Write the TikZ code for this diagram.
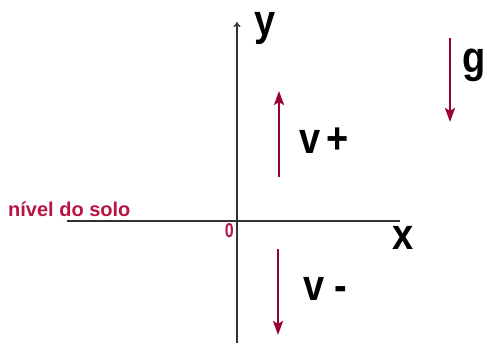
\documentclass[tikz,border=0pt]{standalone}
\usepackage{fontspec}
\setmainfont{Liberation Sans}
\usetikzlibrary{arrows.meta}
\definecolor{vred}{RGB}{153,0,51}
\definecolor{tred}{RGB}{185,20,70}
\definecolor{axisgray}{RGB}{50,50,50}
\tikzset{
  axisline/.style={draw=axisgray, line width=1.3pt},
  vecarrow/.style={draw=vred, line width=2.6pt, -{Stealth[length=14pt,width=10pt,inset=3pt]}},
  biglabel/.style={font=\bfseries\fontsize{38}{38}\selectfont, inner sep=0pt, yscale=1.15},
  redlabel/.style={font=\bfseries, text=tred, inner sep=0pt},
}
\begin{document}
\begin{tikzpicture}[x=1pt,y=-1pt]
\useasboundingbox (0,0) rectangle (487,343);
% axes
\coordinate (xl) at (67,221);
\coordinate (xr) at (400,221);
\coordinate (yb) at (237,343);
\coordinate (yt) at (237,22);
\draw[axisline] (xl) -- (xr);
\draw[axisline, -{To[length=5pt,width=7pt]}] (yb) -- (yt);
% labels
\node[biglabel, anchor=base] (ylab) at (265,35) {y};
\node[biglabel, anchor=base] (xlab) at (403,249) {x};
\node[biglabel, anchor=base] (glab) at (474,72) {g};
\node[biglabel, anchor=base west] (vplus) at (299,153) {v\,+};
\node[biglabel, anchor=base west] (vminus) at (303,300) {v -};
\node[redlabel, font=\bfseries\fontsize{20}{20}\selectfont, anchor=base west] (solo) at (8,216) {nível do solo};
\node[redlabel, font=\bfseries\fontsize{16}{16}\selectfont, anchor=base east, yscale=1.25] (zero) at (234,237) {0};
% vectors
\coordinate (vpA) at (279,177);
\coordinate (vpB) at (279,91);
\coordinate (vmA) at (278,249);
\coordinate (vmB) at (278,335);
\coordinate (gA) at (450,38);
\coordinate (gB) at (450,122);
\draw[vecarrow] (vpA) -- (vpB);
\draw[vecarrow] (vmA) -- (vmB);
\draw[vecarrow] (gA) -- (gB);
\end{tikzpicture}
\end{document}
